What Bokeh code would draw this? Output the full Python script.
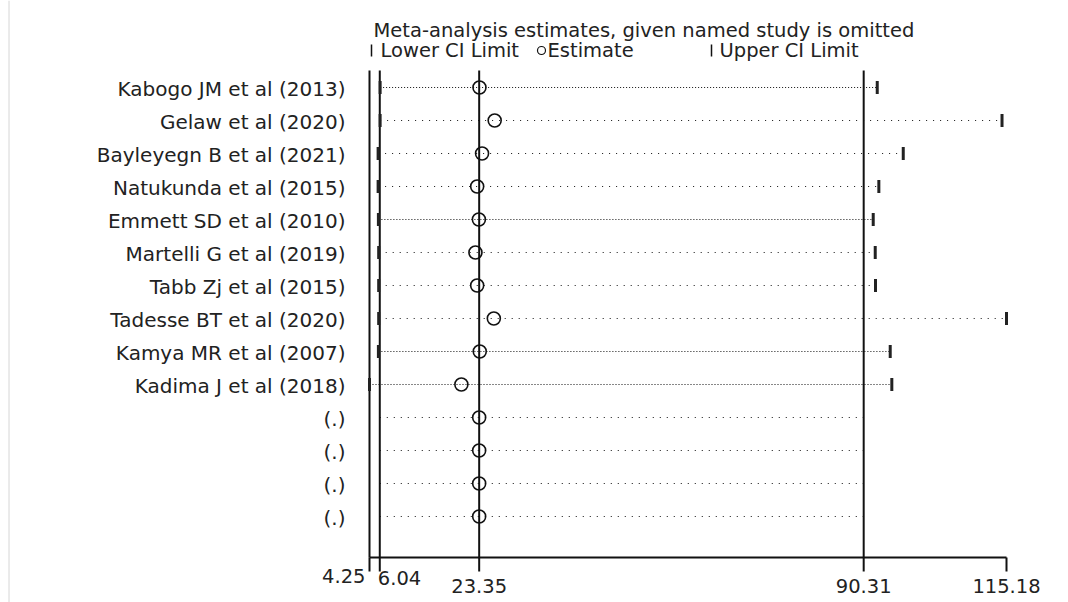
import numpy as np
from bokeh.plotting import figure
from bokeh.models import Range1d
from bokeh.core.properties import value
from bokeh.embed import file_html
from bokeh.resources import INLINE

# ---------------- data ----------------
studies = [
    "Kabogo JM et al (2013)", "Gelaw et al (2020)", "Bayleyegn B et al (2021)",
    "Natukunda et al (2015)", "Emmett SD et al (2010)", "Martelli G et al (2019)",
    "Tabb Zj et al (2015)", "Tadesse BT et al (2020)", "Kamya MR et al (2007)",
    "Kadima J et al (2018)", "(.)", "(.)", "(.)", "(.)",
]
estimate = [23.40, 26.05, 23.85, 23.00, 23.30, 22.70, 23.00, 25.90, 23.45, 20.25,
            23.35, 23.35, 23.35, 23.35]
lower_ci = [6.10, 6.10, 5.75, 5.75, 5.80, 5.85, 5.85, 5.85, 5.80, 4.25,
            6.04, 6.04, 6.04, 6.04]
upper_ci = [92.67, 114.40, 97.20, 92.95, 91.97, 92.32, 92.37, 115.18, 94.93, 95.21,
            90.31, 90.31, 90.31, 90.31]

axis_min, axis_max = 4.25, 115.18
overall_lower, overall_est, overall_upper = 6.04, 23.35, 90.31
tick_values = [axis_min, overall_lower, overall_est, overall_upper, axis_max]

title_text = "Meta-analysis estimates, given named study is omitted"
legend_labels = ["Lower CI Limit", "Estimate", "Upper CI Limit"]

# ---------------- layout helpers ----------------
FONT = "DejaVu Sans"
FS = "19.5px"
FS_LAB = "20px"
TXT = "#222222"
INK = "#111111"
W, H = 1068, 602
AXIS_Y = 557
PXU = (1006 - 369) / (axis_max - axis_min)     # pixels per unit
ROW0, ROWH = 87, 33                              # first row pixel, row spacing


def X(px):
    return axis_min + (px - 369) / PXU


def Y(py):
    return (py - ROW0) / ROWH


rows = np.arange(len(studies))
named = np.array([s != "(.)" for s in studies])
est = np.array(estimate)
lo = np.array(lower_ci)
hi = np.array(upper_ci)

p = figure(width=W, height=H,
           x_range=Range1d(X(0), X(W)),
           y_range=Range1d(Y(H), Y(0)),
           x_axis_location=None, y_axis_location=None,
           output_backend="svg", toolbar_location=None,
           min_border=0)
p.outline_line_color = None
p.xgrid.visible = False
p.ygrid.visible = False
p.background_fill_color = "white"
p.border_fill_color = "white"

# faint graph-region border at far left
p.segment(x0=[X(8.5)], y0=[Y(0)], x1=[X(8.5)], y1=[Y(H)],
          line_color="#d6d6d6", line_width=1)

# study labels (y axis)
p.text(x=[X(345)] * len(studies), y=rows, text=studies, y_offset=1,
       text_font=value(FONT), text_font_size=FS_LAB, text_align="right",
       text_baseline="middle", text_color=TXT)

# x axis on the data scale: line, ticks, labels
p.segment(x0=[axis_min], y0=[Y(AXIS_Y)], x1=[axis_max], y1=[Y(AXIS_Y)],
          line_color=INK, line_width=2)
p.segment(x0=tick_values, y0=[Y(AXIS_Y)] * 5, x1=tick_values, y1=[Y(AXIS_Y + 14)] * 5,
          line_color=INK, line_width=2)
big = tick_values[2:]
p.text(x=big, y=[Y(585)] * len(big), text=[f"{v:.2f}" for v in big],
       text_font=value(FONT), text_font_size=FS, text_align="center",
       text_baseline="middle", text_color=TXT)
p.text(x=[axis_min], y=[Y(575)], x_offset=-4, text=[f"{axis_min:.2f}"],
       text_font=value(FONT), text_font_size=FS, text_align="right",
       text_baseline="middle", text_color=TXT)
p.text(x=[overall_lower], y=[Y(577)], x_offset=-2, text=[f"{overall_lower:.2f}"],
       text_font=value(FONT), text_font_size=FS, text_align="left",
       text_baseline="middle", text_color=TXT)

# vertical reference lines (axis min, overall lower CI, estimate, upper CI)
vx = [axis_min, overall_lower, overall_est, overall_upper]
p.segment(x0=vx, y0=[Y(70)] * 4, x1=vx, y1=[Y(AXIS_Y)] * 4,
          line_color=INK, line_width=2)

# dotted CI lines
dense = np.isin(rows, [0, 4, 8, 9])
for mask, dash in ((dense, "1 2"), (~dense, "1 6")):
    p.segment(x0=lo[mask], y0=rows[mask], x1=hi[mask], y1=rows[mask],
              line_color=INK, line_width=1, line_dash=dash)

# CI limit bars (named studies only)
bh = 6.5 / ROWH
for arr in (lo, hi):
    p.segment(x0=arr[named], y0=rows[named] - bh, x1=arr[named], y1=rows[named] + bh,
              line_color="#222222", line_width=3)

# estimates
p.scatter(est, rows, marker="circle", size=13, fill_color=None,
          line_color=INK, line_width=1.6)

# title and legend
p.text(x=[X(373)], y=[Y(30)], text=[title_text], text_font=value(FONT),
       text_font_size=FS, text_align="left", text_baseline="middle", text_color=TXT)
p.segment(x0=[X(371), X(711)], y0=[Y(44), Y(44)], x1=[X(371), X(711)], y1=[Y(56), Y(56)],
          line_color=INK, line_width=1.5)
p.scatter([X(541)], [Y(50)], marker="circle", size=8, fill_color=None,
          line_color=INK, line_width=1.2)
p.text(x=[X(380), X(547), X(719)], y=[Y(50)] * 3, text=legend_labels,
       text_font=value(FONT), text_font_size=FS, text_align="left",
       text_baseline="middle", text_color=TXT)

open("out.html", "w").write(file_html(p, INLINE))
